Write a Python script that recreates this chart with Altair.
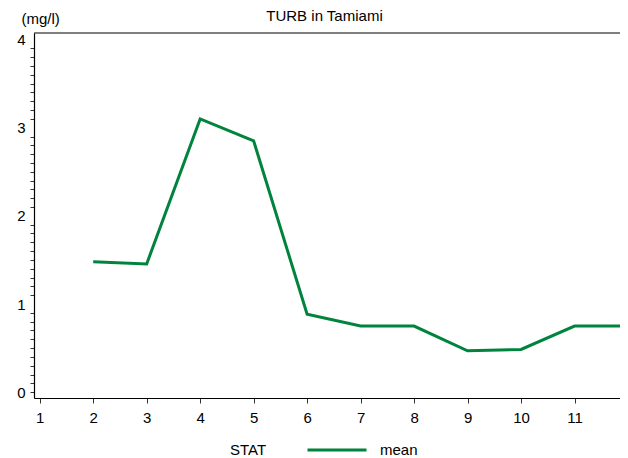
import altair as alt
import pandas as pd

# Data
months = [2, 3, 4, 5, 6, 7, 8, 9, 10, 11, 12]
turb_mean = [1.48, 1.455, 3.10, 2.85, 0.885, 0.75, 0.75, 0.47, 0.485, 0.75, 0.75]
stat = ["mean"] * len(months)

x_ticks = list(range(1, 13))
y_ticks = [round(i * 0.1, 1) for i in range(0, 41)]

FONT = "Liberation Sans"
FS = 15
GREEN = "#00843D"
W, H = 594, 365

df = pd.DataFrame({"month": months, "turb": turb_mean, "stat": stat})

line = alt.Chart(df).mark_line(strokeWidth=3).encode(
    x=alt.X(
        "month:Q",
        scale=alt.Scale(domain=[0.893, 12.0], nice=False, zero=False),
        axis=alt.Axis(
            values=x_ticks, title=None, grid=False, tickSize=5, tickColor="#333333",
            domainColor="black", domainWidth=1.2, labelFontSize=FS, labelFont=FONT,
            labelColor="black", labelPadding=7, labelFlush=False, labelOverlap=False,
        ),
    ),
    y=alt.Y(
        "turb:Q",
        scale=alt.Scale(domain=[-0.066, 4.074], nice=False, zero=False),
        axis=alt.Axis(
            values=y_ticks, grid=False, tickSize=4, tickColor="#333333",
            tickOpacity={"condition": {"test": "datum.value > 0 && datum.value % 1 === 0", "value": 0}, "value": 1},
            labelExpr="datum.value % 1 === 0 ? format(datum.value, 'd') : ''",
            labelOverlap=False, labelFlush=False,
            domainColor="black", domainWidth=1.2, labelFontSize=FS, labelFont=FONT,
            labelColor="black", labelPadding=5,
            title="(mg/l)", titleAngle=0, titleAlign="left", titleBaseline="alphabetic",
            titleX=-13, titleY=-10, titleFontSize=FS, titleFont=FONT,
            titleFontWeight="normal", titleColor="black",
        ),
    ),
    color=alt.Color(
        "stat:N",
        scale=alt.Scale(domain=["mean"], range=[GREEN]),
        legend=alt.Legend(
            orient="none", legendX=196, legendY=386, direction="horizontal",
            titleOrient="left", title="STAT", padding=0, titlePadding=39,
            titleBaseline="bottom", titleAnchor="end",
            symbolType="stroke", symbolSize=3481, symbolStrokeWidth=3,
            labelOffset=12, labelFontSize=FS, labelFont=FONT, labelColor="black",
            titleFontSize=FS, titleFont=FONT, titleFontWeight="normal", titleColor="black",
        ),
    ),
)

frame_top = alt.Chart(pd.DataFrame({"a": [0]})).mark_rule(color="black", strokeWidth=1.2).encode(
    x=alt.value(0), x2=alt.value(W), y=alt.value(0)
)

chart = alt.layer(frame_top, line).properties(
    width=W,
    height=H,
    title=alt.TitleParams(
        "TURB in Tamiami", fontSize=FS, fontWeight="normal", font=FONT, color="black",
        anchor="middle", dx=-6.5, offset=0, dy=25, baseline="alphabetic",
    ),
    autosize=alt.AutoSizeParams(type="none"),
    padding={"left": 26, "top": 25, "right": -8, "bottom": 60},
).configure_view(stroke=None)

chart.save("out.html", embed_options={"renderer": "svg", "actions": False})
